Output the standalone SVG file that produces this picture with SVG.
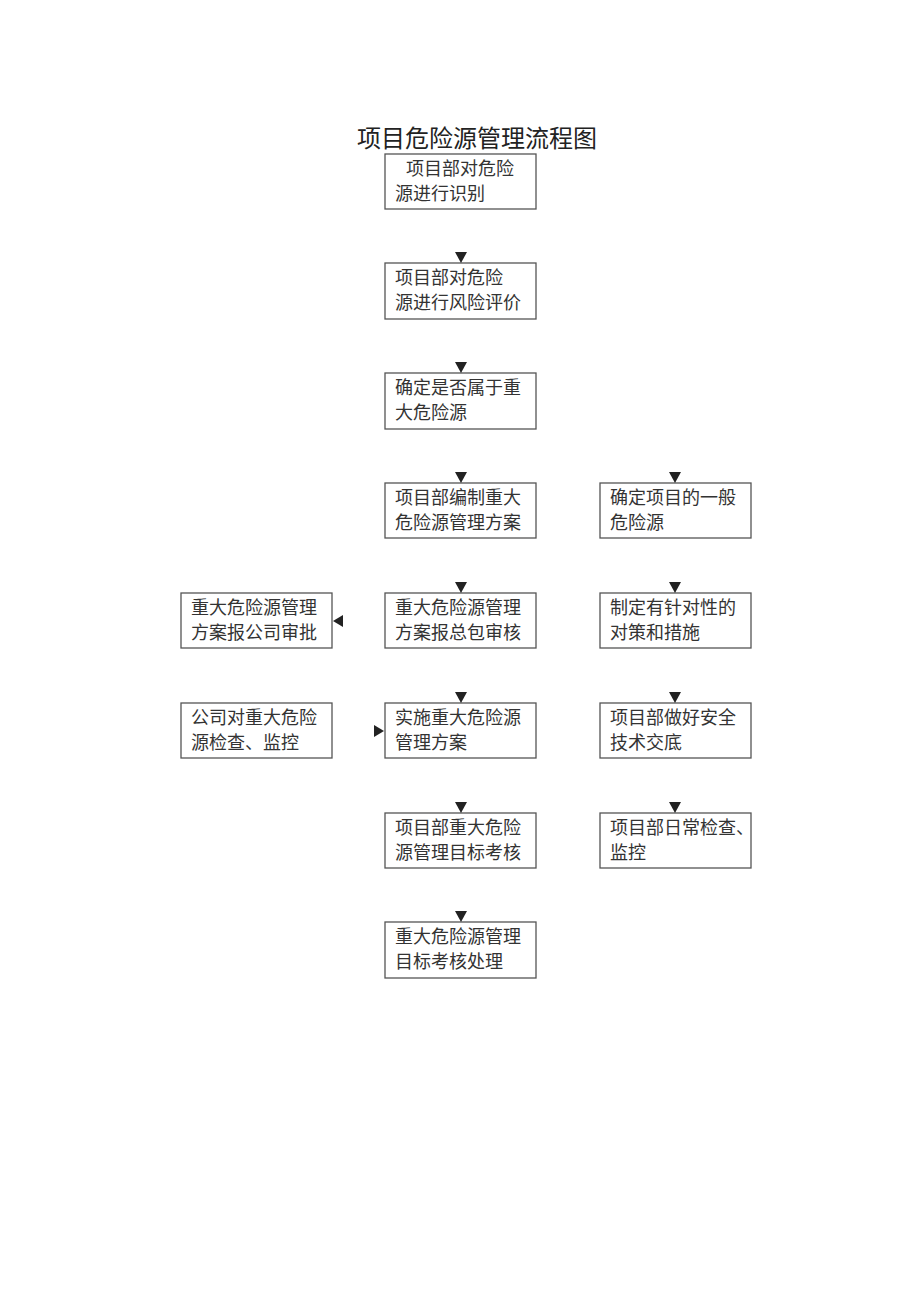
<svg xmlns="http://www.w3.org/2000/svg" width="920" height="1302" viewBox="0 0 920 1302">
<style>
.b{fill:#fff;stroke:#555;stroke-width:1.3}
.t{font-family:"Liberation Serif","Noto Sans CJK SC",serif;font-size:18px;fill:#333}
.h{font-family:"Liberation Serif","Noto Sans CJK SC",serif;font-size:24px;fill:#222}
.a{fill:#222}
</style>
<rect width="920" height="1302" fill="#fff"/>
<text class="h" x="477" y="147" text-anchor="middle">项目危险源管理流程图</text>
<g id="n1"><rect class="b" x="385" y="154" width="151" height="55"/><text class="t" x="406" y="175">项目部对危险</text><text class="t" x="395" y="200">源进行识别</text></g>
<g id="n2"><rect class="b" x="385" y="263" width="151" height="56"/><text class="t" x="395" y="284">项目部对危险</text><text class="t" x="395" y="309">源进行风险评价</text></g>
<g id="n3"><rect class="b" x="385" y="373" width="151" height="56"/><text class="t" x="395" y="394">确定是否属于重</text><text class="t" x="395" y="419">大危险源</text></g>
<g id="n4"><rect class="b" x="385" y="483" width="151" height="55"/><text class="t" x="395" y="504">项目部编制重大</text><text class="t" x="395" y="529">危险源管理方案</text></g>
<g id="n5"><rect class="b" x="385" y="593" width="151" height="55"/><text class="t" x="395" y="614">重大危险源管理</text><text class="t" x="395" y="639">方案报总包审核</text></g>
<g id="n6"><rect class="b" x="385" y="703" width="151" height="55"/><text class="t" x="395" y="724">实施重大危险源</text><text class="t" x="395" y="749">管理方案</text></g>
<g id="n7"><rect class="b" x="385" y="813" width="151" height="55"/><text class="t" x="395" y="834">项目部重大危险</text><text class="t" x="395" y="859">源管理目标考核</text></g>
<g id="n8"><rect class="b" x="385" y="922" width="151" height="56"/><text class="t" x="395" y="943">重大危险源管理</text><text class="t" x="395" y="968">目标考核处理</text></g>
<g id="r1"><rect class="b" x="600" y="483" width="151" height="55"/><text class="t" x="610" y="504">确定项目的一般</text><text class="t" x="610" y="529">危险源</text></g>
<g id="r2"><rect class="b" x="600" y="593" width="151" height="55"/><text class="t" x="610" y="614">制定有针对性的</text><text class="t" x="610" y="639">对策和措施</text></g>
<g id="r3"><rect class="b" x="600" y="703" width="151" height="55"/><text class="t" x="610" y="724">项目部做好安全</text><text class="t" x="610" y="749">技术交底</text></g>
<g id="r4"><rect class="b" x="600" y="813" width="151" height="55"/><text class="t" x="610" y="834">项目部日常检查、</text><text class="t" x="610" y="859">监控</text></g>
<g id="l1"><rect class="b" x="181" y="593" width="151" height="55"/><text class="t" x="191" y="614">重大危险源管理</text><text class="t" x="191" y="639">方案报公司审批</text></g>
<g id="l2"><rect class="b" x="181" y="703" width="151" height="55"/><text class="t" x="191" y="724">公司对重大危险</text><text class="t" x="191" y="749">源检查、监控</text></g>
<g id="connectors">
<polygon class="a" points="455,252 467,252 461,263"/>
<polygon class="a" points="455,362 467,362 461,373"/>
<polygon class="a" points="455,472 467,472 461,483"/>
<polygon class="a" points="455,582 467,582 461,593"/>
<polygon class="a" points="455,692 467,692 461,703"/>
<polygon class="a" points="455,802 467,802 461,813"/>
<polygon class="a" points="455,911 467,911 461,922"/>
<polygon class="a" points="669,472 681,472 675,483"/>
<polygon class="a" points="669,582 681,582 675,593"/>
<polygon class="a" points="669,692 681,692 675,703"/>
<polygon class="a" points="669,802 681,802 675,813"/>
<polygon class="a" points="343,615 343,627 333,621"/>
<polygon class="a" points="374,725 374,737 384,731"/>
</g>
</svg>
